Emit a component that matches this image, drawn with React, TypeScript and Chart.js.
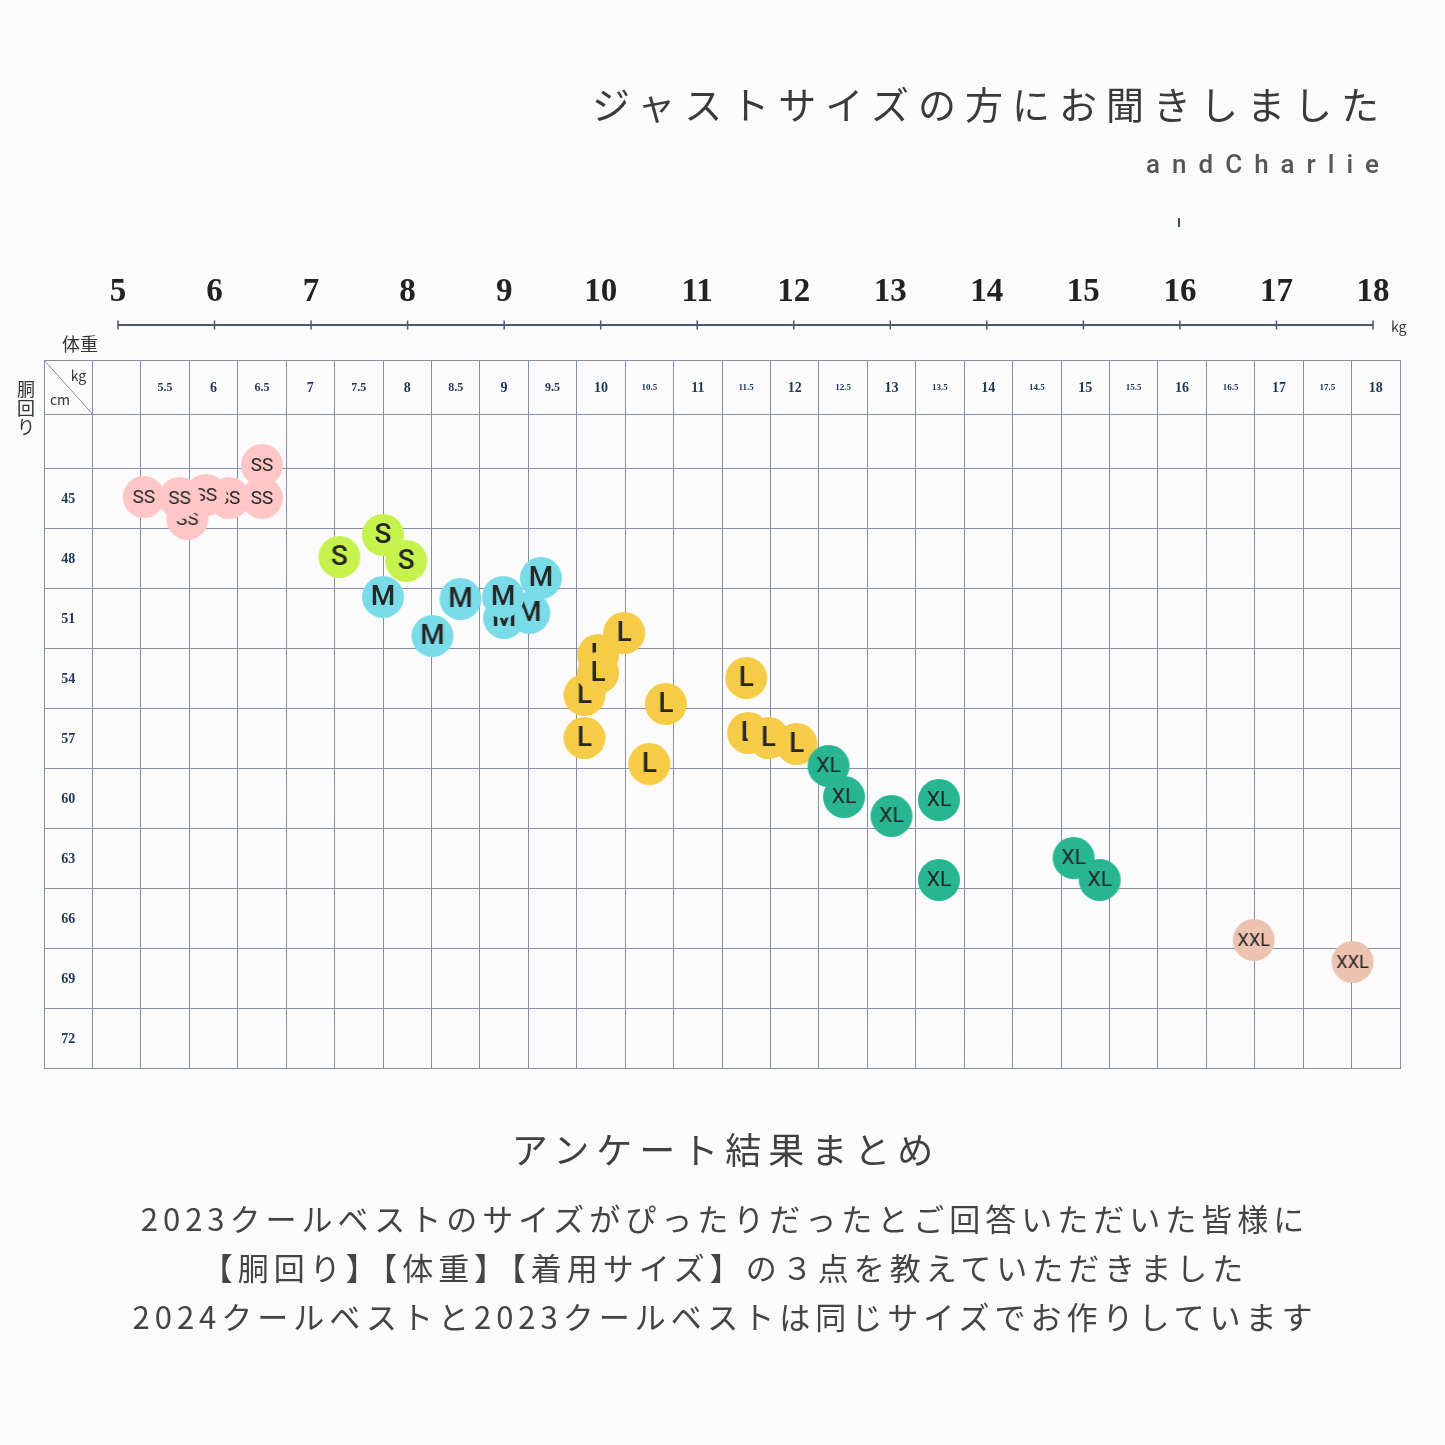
import React, { useEffect, useRef } from 'react';
import { Chart, registerables } from 'chart.js';

Chart.register(...registerables);

// ---------- texts ----------
const titleText = 'ジャストサイズの方にお聞きしました';
const brandText = 'andCharlie';
const weightAxisTitle = '体重';
const waistAxisTitle = ['胴', '回', 'り'];
const summaryTitle = 'アンケート結果まとめ';
const summaryLines = [
  '2023クールベストのサイズがぴったりだったとご回答いただいた皆様に',
  '【胴回り】【体重】【着用サイズ】の３点を教えていただきました',
  '2024クールベストと2023クールベストは同じサイズでお作りしています',
];

// ---------- axes / table ----------
const rulerTicks = [5, 6, 7, 8, 9, 10, 11, 12, 13, 14, 15, 16, 17, 18];
const columnWeights = [5, 5.5, 6, 6.5, 7, 7.5, 8, 8.5, 9, 9.5, 10, 10.5, 11, 11.5, 12, 12.5, 13, 13.5, 14, 14.5, 15, 15.5, 16, 16.5, 17, 17.5, 18];
const columnLabels = ['', '5.5', '6', '6.5', '7', '7.5', '8', '8.5', '9', '9.5', '10', '10.5', '11', '11.5', '12', '12.5', '13', '13.5', '14', '14.5', '15', '15.5', '16', '16.5', '17', '17.5', '18'];
const waistRows = [45, 48, 51, 54, 57, 60, 63, 66, 69, 72];

// ---------- data (weight kg, waist cm) ----------
const ssWeights = [5.28, 5.73, 6.16, 5.92, 5.65, 6.5, 6.5];
const ssWaists = [44.95, 46.05, 45.0, 44.85, 45.0, 43.35, 45.0];
const sWeights = [7.3, 7.75, 7.99];
const sWaists = [47.95, 46.85, 48.15];
const mWeights = [7.75, 8.26, 8.55, 9.26, 9.0, 8.99, 9.38];
const mWaists = [49.95, 51.9, 50.05, 50.75, 51.0, 49.95, 49.0];
const lWeights = [9.97, 9.83, 10.24, 9.97, 9.83, 10.67, 10.5, 11.5, 11.52, 11.73, 12.02];
const lWaists = [52.85, 54.85, 51.75, 53.75, 57.0, 55.3, 58.3, 54.0, 56.75, 57.0, 57.3];
const xlWeights = [12.35, 12.51, 13.0, 13.49, 13.49, 14.88, 15.15];
const xlWaists = [58.4, 59.95, 60.9, 60.1, 64.1, 63.0, 64.1];
const xxlWeights = [16.74, 17.76];
const xxlWaists = [67.1, 68.2];

const sizeLabels = ['SS', 'S', 'M', 'L', 'XL', 'XXL'];
const sizeWeights = [ssWeights, sWeights, mWeights, lWeights, xlWeights, xxlWeights];
const sizeWaists = [ssWaists, sWaists, mWaists, lWaists, xlWaists, xxlWaists];
const sizeColors = ['#ffc6c6', '#c6f24e', '#7adce9', '#f6cb45', '#27b592', '#ecc2b0'];

// ---------- styles ----------
const GRID = '#838da6';
const NAVY = '#1e3556';
const RULER = '#4a5775';
const BADGE_FONT: Record<string, number> = { SS: 19, S: 28, M: 28, L: 28, XL: 21, XXL: 18 };
const BADGE_WEIGHT: Record<string, number> = { SS: 400, S: 500, M: 500, L: 500, XL: 400, XXL: 400 };

function makeBadge(label: string, color: string) {
  const size = 44;
  const c = document.createElement('canvas');
  c.width = size;
  c.height = size;
  const g = c.getContext('2d')!;
  g.fillStyle = color;
  g.beginPath();
  g.arc(size / 2, size / 2, 21, 0, Math.PI * 2);
  g.fill();
  g.fillStyle = '#262626';
  g.font = `${BADGE_WEIGHT[label]} ${BADGE_FONT[label]}px Roboto, "Liberation Sans", Arial, sans-serif`;
  g.textAlign = 'center';
  g.textBaseline = 'middle';
  g.fillText(label, size / 2, size / 2 + 1);
  return c;
}

const tablePlugin = {
  id: 'tableDecor',
  afterDraw(chart: any) {
    const { ctx, chartArea, scales } = chart;
    const x = scales.x;
    const y = scales.y;
    const xr = scales.xr;
    const headerTop = y.min;
    const headerBottom = y.min + 2.7;
    const firstColLeft = x.min;
    const firstColRight = x.min + 0.5;
    ctx.save();

    // diagonal in corner cell
    const cl = x.getPixelForValue(firstColLeft);
    const cr = x.getPixelForValue(firstColRight);
    const ct = y.getPixelForValue(headerTop);
    const cb = y.getPixelForValue(headerBottom);
    ctx.strokeStyle = GRID;
    ctx.lineWidth = 1;
    ctx.beginPath();
    ctx.moveTo(cl, ct);
    ctx.lineTo(cr, cb);
    ctx.stroke();
    ctx.fillStyle = '#333';
    ctx.font = '14px "Noto Sans CJK JP", "Noto Sans", sans-serif';
    ctx.textAlign = 'center';
    ctx.textBaseline = 'middle';
    ctx.fillText('kg', cr - 14, ct + 16);
    ctx.fillText('cm', cl + 16, cb - 14);

    // column headers
    const hy = y.getPixelForValue((headerTop + headerBottom) / 2);
    ctx.fillStyle = NAVY;
    columnWeights.forEach((w, i) => {
      const lab = columnLabels[i];
      if (!lab) return;
      let fs = 14;
      if (lab.includes('.')) fs = lab.length > 3 ? 9 : 12;
      ctx.font = `bold ${fs}px "Liberation Serif", "Times New Roman", serif`;
      ctx.fillText(lab, x.getPixelForValue(w), hy + 1);
    });

    // row labels
    ctx.font = 'bold 14px "Liberation Serif", "Times New Roman", serif';
    const rx = x.getPixelForValue((firstColLeft + firstColRight) / 2);
    waistRows.forEach((r) => {
      ctx.fillText(String(r), rx, y.getPixelForValue(r) + 1);
    });

    // top ruler
    const ry = chartArea.top - 35;
    const r0 = xr.getPixelForValue(rulerTicks[0]);
    const r1 = xr.getPixelForValue(rulerTicks[rulerTicks.length - 1]);
    ctx.strokeStyle = RULER;
    ctx.lineWidth = 2;
    ctx.beginPath();
    ctx.moveTo(r0, ry);
    ctx.lineTo(r1, ry);
    ctx.stroke();
    ctx.lineWidth = 1.5;
    ctx.fillStyle = '#222';
    ctx.font = 'bold 33px "Liberation Serif", "Times New Roman", serif';
    rulerTicks.forEach((t) => {
      const px = xr.getPixelForValue(t);
      ctx.beginPath();
      ctx.moveTo(px, ry - 4.5);
      ctx.lineTo(px, ry + 4.5);
      ctx.stroke();
      ctx.fillText(String(t), px, ry - 33);
    });
    ctx.fillStyle = '#333';
    ctx.font = '14px "Noto Sans CJK JP", "Noto Sans", sans-serif';
    ctx.textAlign = 'left';
    ctx.fillText('kg', r1 + 18, ry + 2);
    ctx.restore();
  },
};

export default function App() {
  const canvasRef = useRef<HTMLCanvasElement | null>(null);

  useEffect(() => {
    if (!canvasRef.current) return;
    const colEdges = [
      columnWeights[0] - 0.75,
      ...columnWeights.map((w) => w - 0.25),
      columnWeights[columnWeights.length - 1] + 0.25,
    ];
    const headerTop = waistRows[0] - 1.5 - 5.4;
    const rowEdges = [
      headerTop,
      headerTop + 2.7,
      ...waistRows.map((r) => r - 1.5),
      waistRows[waistRows.length - 1] + 1.5,
    ];
    const datasets = sizeLabels.map((lab, i) => ({
      label: lab,
      data: sizeWeights[i].map((w, j) => ({ x: w, y: sizeWaists[i][j] })),
      pointStyle: makeBadge(lab, sizeColors[i]) as any,
      pointRadius: 21,
      backgroundColor: sizeColors[i],
      order: sizeLabels.length - i,
    }));
    const chart = new Chart(canvasRef.current, {
      type: 'scatter',
      data: { datasets },
      options: {
        animation: false,
        responsive: false,
        events: [],
        layout: { padding: { left: 44, top: 360, right: 45, bottom: 377 } },
        plugins: { legend: { display: false }, tooltip: { enabled: false } },
        scales: {
          x: {
            type: 'linear',
            min: colEdges[0],
            max: colEdges[colEdges.length - 1],
            afterBuildTicks: (s: any) => {
              s.ticks = colEdges.map((v) => ({ value: v }));
            },
            ticks: { display: false },
            grid: { color: GRID, lineWidth: 1, drawTicks: false },
            border: { color: GRID, width: 1 },
          },
          y: {
            type: 'linear',
            reverse: true,
            min: rowEdges[0],
            max: rowEdges[rowEdges.length - 1],
            afterBuildTicks: (s: any) => {
              s.ticks = rowEdges.map((v) => ({ value: v }));
            },
            ticks: { display: false },
            grid: { color: GRID, lineWidth: 1, drawTicks: false },
            border: { color: GRID, width: 1 },
          },
          xr: {
            type: 'linear',
            axis: 'x',
            position: 'top',
            display: false,
            min: 4.2335,
            max: 18.28,
          },
        },
      } as any,
      plugins: [tablePlugin],
    });
    return () => chart.destroy();
  }, []);

  const jp = '"Noto Sans CJK JP", "Noto Sans", sans-serif';
  return (
    <div
      style={{
        position: 'absolute',
        left: 0,
        top: 0,
        width: 1445,
        height: 1445,
        background: '#fcfbfc',
        overflow: 'hidden',
        fontFamily: jp,
      }}
    >
      <canvas
        ref={canvasRef}
        width={1445}
        height={1445}
        style={{ position: 'absolute', left: 0, top: 0, width: 1445, height: 1445 }}
      />
      <div
        style={{
          position: 'absolute',
          right: 57,
          top: 84,
          fontSize: 38,
          lineHeight: 1,
          letterSpacing: 9,
          color: '#3a3a3a',
          whiteSpace: 'nowrap',
        }}
      >
        {titleText}
      </div>
      <div
        style={{
          position: 'absolute',
          right: 54,
          top: 151,
          fontSize: 26,
          lineHeight: 1,
          letterSpacing: 12,
          fontWeight: 500,
          color: '#555',
          fontFamily: 'Roboto, "Liberation Sans", Arial, sans-serif',
          whiteSpace: 'nowrap',
        }}
      >
        {brandText}
      </div>
      <div style={{ position: 'absolute', left: 1178, top: 218, width: 2, height: 9, background: '#3b4a6b' }} />
      <div style={{ position: 'absolute', left: 62, top: 334, fontSize: 18, lineHeight: 1, color: '#333' }}>
        {weightAxisTitle}
      </div>
      <div
        style={{
          position: 'absolute',
          left: 16,
          top: 379,
          width: 20,
          fontSize: 18,
          lineHeight: '19px',
          color: '#333',
          textAlign: 'center',
        }}
      >
        {waistAxisTitle.map((c) => (
          <div key={c}>{c}</div>
        ))}
      </div>
      <div
        style={{
          position: 'absolute',
          left: 0,
          width: 1445,
          top: 1130,
          textAlign: 'center',
          fontSize: 36,
          lineHeight: 1,
          letterSpacing: 7,
          paddingLeft: 7,
          boxSizing: 'border-box',
          color: '#404040',
        }}
      >
        {summaryTitle}
      </div>
      <div
        style={{
          position: 'absolute',
          left: 0,
          width: 1445,
          top: 1193,
          textAlign: 'center',
          fontSize: 31,
          lineHeight: '49px',
          letterSpacing: 5,
          paddingLeft: 5,
          boxSizing: 'border-box',
          color: '#444',
        }}
      >
        {summaryLines.map((l) => (
          <div key={l} style={{ whiteSpace: 'nowrap' }}>
            {l}
          </div>
        ))}
      </div>
    </div>
  );
}
